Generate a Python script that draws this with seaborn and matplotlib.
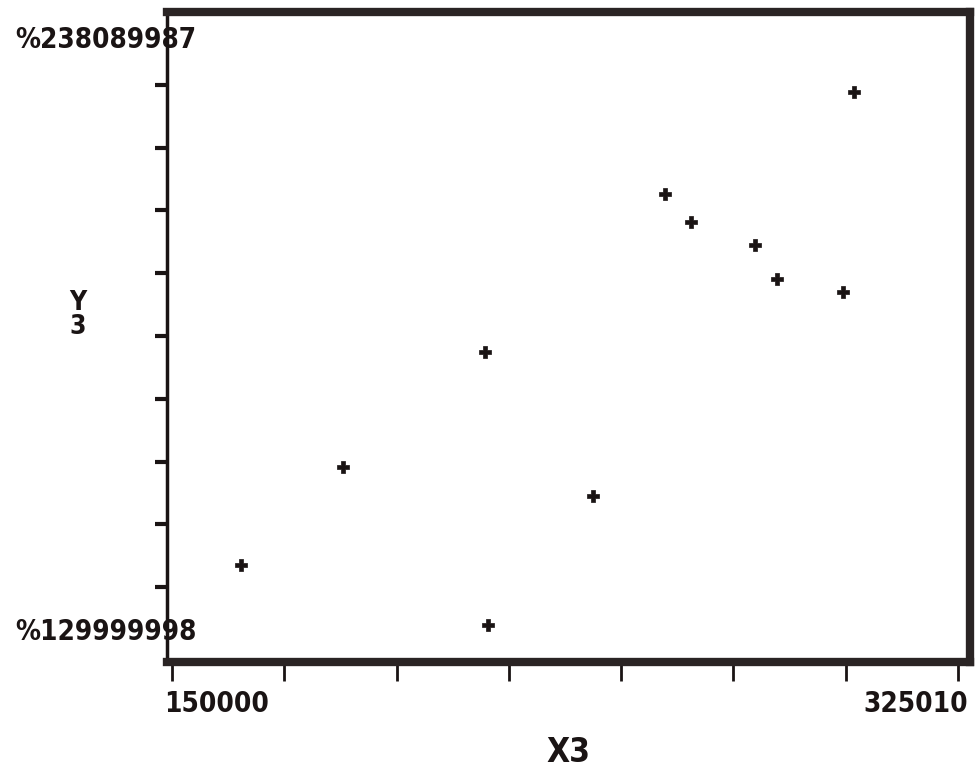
import matplotlib.pyplot as plt
import seaborn as sns
import numpy as np
import pandas as pd

# values
x3 = [165300, 188000, 219700, 220400, 243700, 259700, 265500, 279900, 284800, 299500, 301900]
y3 = [144630000, 161500000, 181290000, 134300000, 156510000, 208490000,
      203670000, 199710000, 193860000, 191620000, 226040000]

x_min_label, x_max_label = 150000, 325010
y_min_label, y_max_label = 129999998, 238089987
x_end_text = ["150000", "325010"]
y_end_text = ["%238089987", "%129999998"]

df = pd.DataFrame({"X3": x3, "Y3": y3})

sns.set_style("white")
plt.rcParams["font.family"] = ["DejaVu Sans"]
ink = "#1a1414"
lab = dict(fontsize=20, fontweight="bold", fontstretch="condensed", color=ink)

fig = plt.figure(figsize=(9.79, 7.72), dpi=100)
ax = fig.add_axes([167 / 979, 110 / 772, 803 / 979, 650 / 772])

sns.scatterplot(data=df, x="X3", y="Y3", ax=ax, marker="P", s=75,
                color=ink, edgecolor=ink, linewidth=0.5)

# axis ranges: end ticks sit a little inside the frame
xstep = (x_max_label - x_min_label) / 786
ax.set_xlim(x_min_label - 5 * xstep, x_max_label + 12 * xstep)
ystep = (y_max_label - y_min_label) / 628
ax.set_ylim(y_min_label - 12 * ystep, y_max_label + 10 * ystep)

ax.set_xticks(np.linspace(x_min_label, x_max_label, 8))
ax.set_xticklabels([])
ax.set_yticks(np.linspace(y_min_label, y_max_label, 11)[1:-1])
ax.set_yticklabels([])

ax.tick_params(axis="x", bottom=True, direction="out", length=14, width=2, color=ink)
ax.tick_params(axis="y", left=True, direction="out", length=9, width=3, color=ink)

for side in ["top", "bottom", "right"]:
    ax.spines[side].set_linewidth(6)
    ax.spines[side].set_color("#2a2424")
ax.spines["left"].set_linewidth(2.5)
ax.spines["left"].set_color(ink)

# end labels on the x axis, aligned to the outer ticks
xt = ax.get_xaxis_transform()
ax.text(x_min_label - 8 * xstep, -0.065, x_end_text[0], transform=xt,
        ha="left", va="center", **lab)
ax.text(x_max_label + 10 * xstep, -0.065, x_end_text[1], transform=xt,
        ha="right", va="center", **lab)

# end labels on the y axis
ax.text(0.037, 0.957, y_end_text[0], transform=ax.transAxes, ha="right", va="center", **lab)
ax.text(0.037, 0.046, y_end_text[1], transform=ax.transAxes, ha="right", va="center", **lab)

ax.set_xlabel("X3", fontsize=24, fontweight="bold", fontstretch="condensed",
              color=ink, labelpad=36)
ax.set_ylabel("")
fig.text(78 / 979, 1 - 315 / 772, "Y\n3", ha="center", va="center", fontsize=19,
         fontweight="bold", fontstretch="condensed", color=ink, linespacing=0.9)

plt.savefig("out.png", dpi=100)
